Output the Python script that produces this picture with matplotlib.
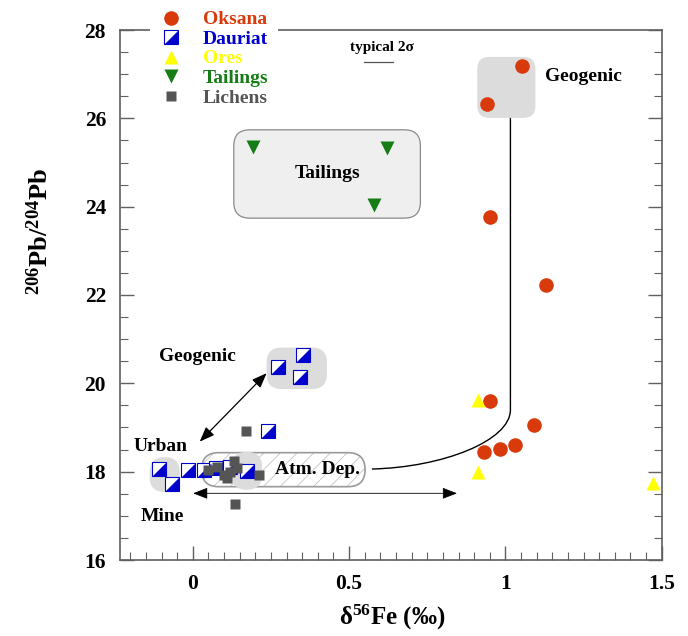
import numpy as np
import matplotlib
matplotlib.use("Agg")
import matplotlib.pyplot as plt
from matplotlib.lines import Line2D
from matplotlib.patches import FancyBboxPatch, PathPatch
from matplotlib.path import Path
from matplotlib.legend_handler import HandlerTuple
from matplotlib.ticker import MultipleLocator

plt.rcParams['font.family'] = ['Liberation Serif', 'DejaVu Serif']
plt.rcParams['font.weight'] = 'bold'
plt.rcParams['axes.labelweight'] = 'bold'
plt.rcParams['mathtext.fontset'] = 'custom'
plt.rcParams['mathtext.rm'] = 'Liberation Serif:bold'
plt.rcParams['mathtext.it'] = 'Liberation Serif:bold:italic'
plt.rcParams['mathtext.bf'] = 'Liberation Serif:bold'
plt.rcParams['hatch.linewidth'] = 0.6

# --- veriler (delta56Fe, 206Pb/204Pb) ---
oksana_fe = [1.054, 0.941, 0.952, 1.131, 0.952, 1.092, 1.032, 0.982, 0.933]
oksana_pb = [27.18, 26.32, 23.77, 22.23, 19.60, 19.06, 18.60, 18.51, 18.44]

dauriat_fe = [0.271, 0.352, 0.343, 0.241, -0.108, -0.068, -0.017, 0.035, 0.075, 0.120, 0.172]
dauriat_pb = [20.38, 20.64, 20.15, 18.91, 18.05, 17.71, 18.04, 18.04, 18.08, 18.10, 18.02]

ores_fe = [0.911, 0.911, 1.472]
ores_pb = [19.62, 18.00, 17.74]

tail_fe = [0.193, 0.621, 0.581]
tail_pb = [25.36, 25.32, 24.04]

lichen_fe = [0.050, 0.078, 0.133, 0.100, 0.120, 0.108, 0.140, 0.213, 0.135, 0.170]
lichen_pb = [18.03, 18.11, 18.25, 17.93, 18.00, 17.85, 18.08, 17.92, 17.27, 18.92]

C_OKS = '#D93A0B'
C_DAU = '#0000CC'
C_ORE = '#FFFF00'
C_TAIL = '#167D16'
C_LICH = '#555555'

fig = plt.figure(figsize=(6.88, 6.36), dpi=100)
ax = fig.add_axes([120/688, 1-560/636, (661.7-120)/688, (560-30)/636])
ax.set_xlim(-0.233, 1.5)
ax.set_ylim(16, 28)

# x birimi -> piksel, y birimi -> piksel orani (kutu koseleri icin)
asp = (312.0/1.0) / (530.0/12.0)


def rbox(x0, x1, y0, y1, rad_px, **kw):
    r = rad_px / 312.0
    p = FancyBboxPatch((x0, y0), x1-x0, y1-y0,
                       boxstyle=f"round,pad=0,rounding_size={r}",
                       mutation_aspect=asp, **kw)
    ax.add_patch(p)
    return p


# kutular
rbox(0.131, 0.728, 23.74, 25.74, 16, fc='#EFEFEF', ec='#8A8A8A', lw=0.9, zorder=1)
rbox(0.910, 1.096, 26.01, 27.39, 12, fc='#DCDCDC', ec='none', zorder=1)
rbox(0.236, 0.429, 19.87, 20.81, 15, fc='#DCDCDC', ec='none', zorder=1)
rbox(-0.138, -0.042, 17.54, 18.33, 15, fc='#DCDCDC', ec='none', zorder=1)
# Atm. Dep. kapsulu: acik renkli tarama + gri kenar
rbox(0.028, 0.551, 17.66, 18.43, 17, fc='white', ec='#C4C4C4', lw=0,
     hatch='//', zorder=1)
rbox(0.028, 0.551, 17.66, 18.43, 17, fc='none', ec='#9A9A9A', lw=1.2, zorder=1.2)
rbox(0.123, 0.222, 17.59, 18.45, 15.5, fc='#DCDCDC', ec='none', zorder=1.5)

# Geogenic -> Atm. Dep. egrisi
verts = [(1.016, 26.01), (1.016, 19.40), (1.016, 18.70), (0.80, 18.10), (0.573, 18.06)]
codes = [Path.MOVETO, Path.LINETO, Path.CURVE4, Path.CURVE4, Path.CURVE4]
ax.add_patch(PathPatch(Path(verts, codes), fc='none', ec='black', lw=1.0, zorder=2))

# oklar
ax.annotate('', xy=(0.236, 20.23), xytext=(0.022, 18.68),
            arrowprops=dict(arrowstyle='<|-|>,head_length=0.9,head_width=0.35',
                            color='black', lw=0.9, shrinkA=0, shrinkB=0), zorder=2)
ax.annotate('', xy=(0.845, 17.51), xytext=(0.001, 17.51),
            arrowprops=dict(arrowstyle='<|-|>,head_length=0.9,head_width=0.35',
                            color='black', lw=0.6, shrinkA=0, shrinkB=0), zorder=2)

# noktalar
ax.plot(oksana_fe, oksana_pb, 'o', ms=10.5, mfc=C_OKS, mec='none', zorder=4)
ax.plot(ores_fe, ores_pb, '^', ms=10.5, mfc=C_ORE, mec='none', zorder=4)
ax.plot(tail_fe, tail_pb, 'v', ms=10.5, mfc=C_TAIL, mec='none', zorder=4)
tri = [(-1, -1), (1, -1), (1, 1), (-1, -1)]
ax.plot(dauriat_fe, dauriat_pb, 's', ms=10, mfc='white', mec=C_DAU, mew=0.8, zorder=4)
ax.plot(dauriat_fe, dauriat_pb, marker=tri, ls='none', ms=10, mfc=C_DAU, mec='none', zorder=4)
ax.plot(lichen_fe, lichen_pb, 's', ms=7.5, mfc=C_LICH, mec='none', zorder=5)

# yazilar
tk = dict(fontsize=14, fontweight='bold', color='black', zorder=6)
ax.text(1.128, 26.94, 'Geogenic', ha='left', va='center', **tk)
ax.text(0.43, 24.74, 'Tailings', ha='center', va='center', **tk)
ax.text(0.016, 20.60, 'Geogenic', ha='center', va='center', **tk)
ax.text(-0.104, 18.57, 'Urban', ha='center', va='center', **tk)
ax.text(-0.096, 16.98, 'Mine', ha='center', va='center', **tk)
ax.text(0.40, 18.04, 'Atm. Dep.', ha='center', va='center', **tk)
ax.text(0.604, 27.60, 'typical 2σ', ha='center', va='center', fontsize=11,
        fontweight='bold')
ax.plot([0.549, 0.640], [27.27, 27.27], color='#555555', lw=0.9)

# eksenler
for s in ax.spines.values():
    s.set_color('#606060')
    s.set_linewidth(1.2)
ax.xaxis.set_major_locator(MultipleLocator(0.5))
ax.xaxis.set_minor_locator(MultipleLocator(0.05))
ax.yaxis.set_major_locator(MultipleLocator(2))
ax.yaxis.set_minor_locator(MultipleLocator(0.5))
ax.tick_params(which='both', direction='in', top=False, right=True,
               colors='#606060', labelcolor='black', labelsize=15.5)
ax.tick_params(which='major', length=10, width=1.0, pad=10)
ax.tick_params(which='minor', length=6, width=0.8)
ax.set_xticks([0, 0.5, 1, 1.5])
ax.set_xticklabels(['0', '0.5', '1', '1.5'])

fig.text(40/688, 1-232/636, r'$^{206}$Pb/$^{204}$Pb', rotation=90,
         ha='center', va='center', fontsize=19, fontweight='bold')
fig.text(392/688, 1-617/636, r'δ$^{56}$Fe (‰)', ha='center', va='center',
         fontsize=18, fontweight='bold')

# lejant
h_oks = Line2D([], [], ls='none', marker='o', ms=10.5, mfc=C_OKS, mec='none')
h_dsq = Line2D([], [], ls='none', marker='s', ms=10, mfc='white', mec=C_DAU, mew=0.8)
h_dtr = Line2D([], [], ls='none', marker=tri, ms=10, mfc=C_DAU, mec='none')
h_ore = Line2D([], [], ls='none', marker='^', ms=10.5, mfc=C_ORE, mec='none')
h_tai = Line2D([], [], ls='none', marker='v', ms=10.5, mfc=C_TAIL, mec='none')
h_lic = Line2D([], [], ls='none', marker='s', ms=7, mfc=C_LICH, mec='none')
leg = ax.legend([h_oks, (h_dsq, h_dtr), h_ore, h_tai, h_lic],
                ['Oksana', 'Dauriat', 'Ores', 'Tailings', 'Lichens'],
                handler_map={tuple: HandlerTuple(ndivide=1)},
                loc='upper left', bbox_to_anchor=(150/688, 1-1/636),
                bbox_transform=fig.transFigure, frameon=True, fancybox=False,
                facecolor='white', edgecolor='none', framealpha=1,
                fontsize=14, labelspacing=0.1, handlelength=1.2,
                handletextpad=1.0, borderpad=0.5, borderaxespad=0)
for t, c in zip(leg.get_texts(), [C_OKS, C_DAU, C_ORE, C_TAIL, C_LICH]):
    t.set_color(c)
    t.set_fontweight('bold')

fig.savefig('out.png', dpi=100)
